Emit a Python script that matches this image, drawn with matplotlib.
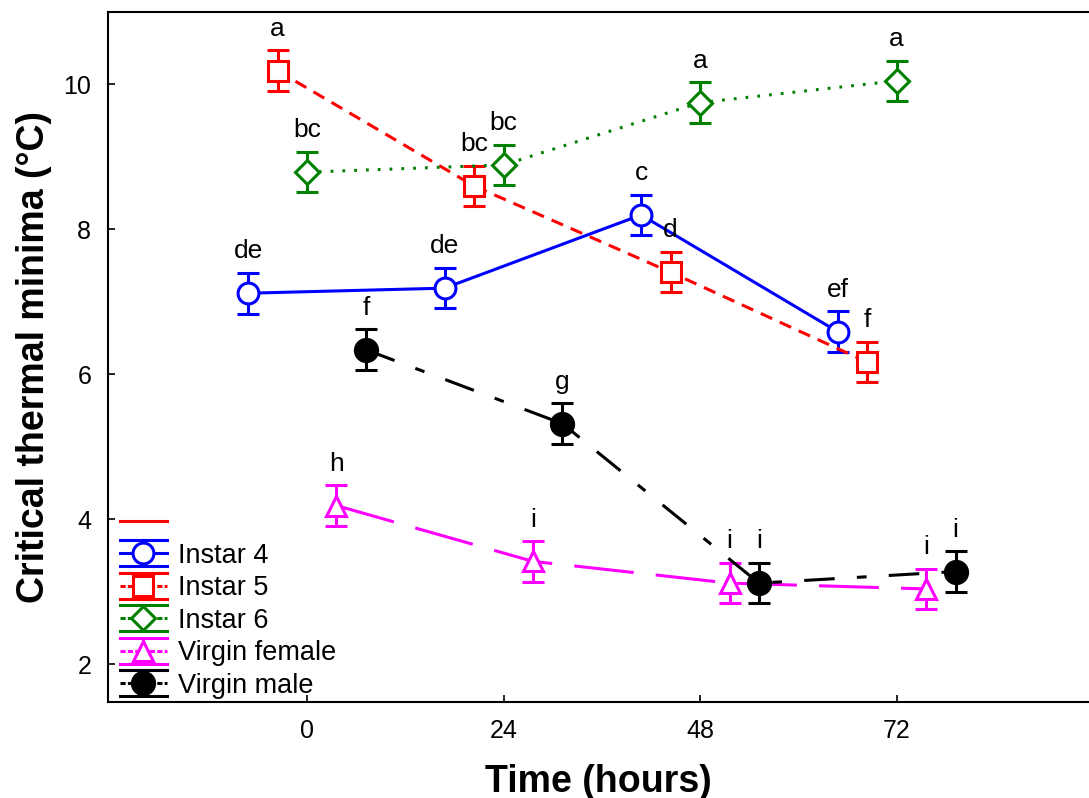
import matplotlib
matplotlib.use("Agg")
import matplotlib.pyplot as plt
from matplotlib.lines import Line2D
from matplotlib.legend_handler import HandlerBase, HandlerLine2D

plt.rcParams["font.family"] = ["Liberation Sans", "DejaVu Sans"]
plt.rcParams["lines.scale_dashes"] = False

# time points (hours) and horizontal offset per group
times = [0, 24, 48, 72]
offsets = [-7.2, -3.6, 0.0, 3.6, 7.2]

groups = ["Instar 4", "Instar 5", "Instar 6", "Virgin female", "Virgin male"]
instar4 = [7.12, 7.19, 8.20, 6.59]
instar5 = [10.19, 8.60, 7.41, 6.17]
instar6 = [8.79, 8.89, 9.75, 10.05]
virgin_female = [4.19, 3.42, 3.12, 3.04]
virgin_male = [6.34, 5.32, 3.12, 3.28]
se = [0.28, 0.28, 0.28, 0.28]

letters4 = ["de", "de", "c", "ef"]
letters5 = ["a", "bc", "d", "f"]
letters6 = ["bc", "bc", "a", "a"]
letters_vf = ["h", "i", "i", "i"]
letters_vm = ["f", "g", "i", "i"]

means = [instar4, instar5, instar6, virgin_female, virgin_male]
letters = [letters4, letters5, letters6, letters_vf, letters_vm]
colors = ["#0000ff", "#ff0000", "#008000", "#ff00ff", "#000000"]
markers = ["o", "s", "D", "^", "o"]
msizes = [15, 15, 12, 15, 16]
faces = ["white", "white", "white", "white", "#000000"]
styles = ["-", (0, (9, 6)), (0, (2, 6.5)), (0, (43, 16)), (0, (22, 16, 7, 16))]


class ErrorbarHandle(HandlerBase):
    def create_artists(self, legend, orig_handle, xdescent, ydescent,
                       width, height, fontsize, trans):
        x0 = -xdescent
        xc = x0 + width / 2
        yc = -ydescent + height / 2
        d = 9.4
        c = orig_handle.get_color()
        arts = [
            Line2D([x0, x0 + width], [yc + d, yc + d], color=c, lw=2.2),
            Line2D([x0, x0 + width], [yc - d, yc - d], color=c, lw=2.2),
            Line2D([x0, x0 + width], [yc, yc], color=c, lw=2.2,
                   linestyle=orig_handle.get_linestyle()),
            Line2D([xc, xc], [yc - d, yc + d], color=c, lw=2.2),
            Line2D([xc], [yc], color=c, marker=orig_handle.get_marker(),
                   markersize=orig_handle.get_markersize(),
                   markerfacecolor=orig_handle.get_markerfacecolor(),
                   markeredgecolor=c, markeredgewidth=2.2, linestyle="none"),
        ]
        for a in arts:
            a.set_transform(trans)
        return arts


fig = plt.figure(figsize=(10.89, 7.98), dpi=100)
ax = fig.add_axes([108 / 1089, 1 - 702 / 798, 981 / 1089, 690 / 798])

for i in range(5):
    xs = [t + offsets[i] for t in times]
    ax.errorbar(xs, means[i], yerr=se, color=colors[i], linestyle=styles[i],
                linewidth=2.2, marker=markers[i], markersize=msizes[i],
                markerfacecolor=faces[i], markeredgecolor=colors[i],
                markeredgewidth=2.2, elinewidth=2.2, capsize=8, capthick=2.2,
                zorder=3 + i)
    for x, y, e, lab in zip(xs, means[i], se, letters[i]):
        ax.annotate(lab, (x, y + e), xytext=(0, 10.5), textcoords="offset points",
                    ha="center", va="baseline", fontsize=19, zorder=10)

ax.set_xlim(-24.3, 95.5)
ax.set_ylim(1.48, 11.0)
ax.set_xticks(times)
ax.set_yticks([2, 4, 6, 8, 10])
ax.tick_params(direction="in", length=5, width=1.2, labelsize=18, pad=12)
for s in ["left", "bottom", "top"]:
    ax.spines[s].set_linewidth(1.5)
ax.spines["right"].set_visible(False)

ax.set_xlabel("Time (hours)", fontsize=27, fontweight="bold", labelpad=15)
ax.set_ylabel("Critical thermal minima (°C)", fontsize=27, fontweight="bold",
              labelpad=8)

# legend
glitch = Line2D([], [], color="#ff0000", lw=2.2)
handles = [glitch]
hmap = {glitch: HandlerLine2D()}
for i in range(5):
    h = Line2D([], [], color=colors[i], linestyle=styles[i], marker=markers[i],
               markersize=msizes[i], markerfacecolor=faces[i])
    handles.append(h)
    hmap[h] = ErrorbarHandle()
ax.legend(handles, [""] + groups, handler_map=hmap, loc="lower left",
          bbox_to_anchor=(0.012, 0.005), borderaxespad=0, borderpad=0,
          frameon=False, fontsize=19.5, handlelength=1.75, handletextpad=0.4,
          labelspacing=0.24)

fig.savefig("out.png", dpi=100)
